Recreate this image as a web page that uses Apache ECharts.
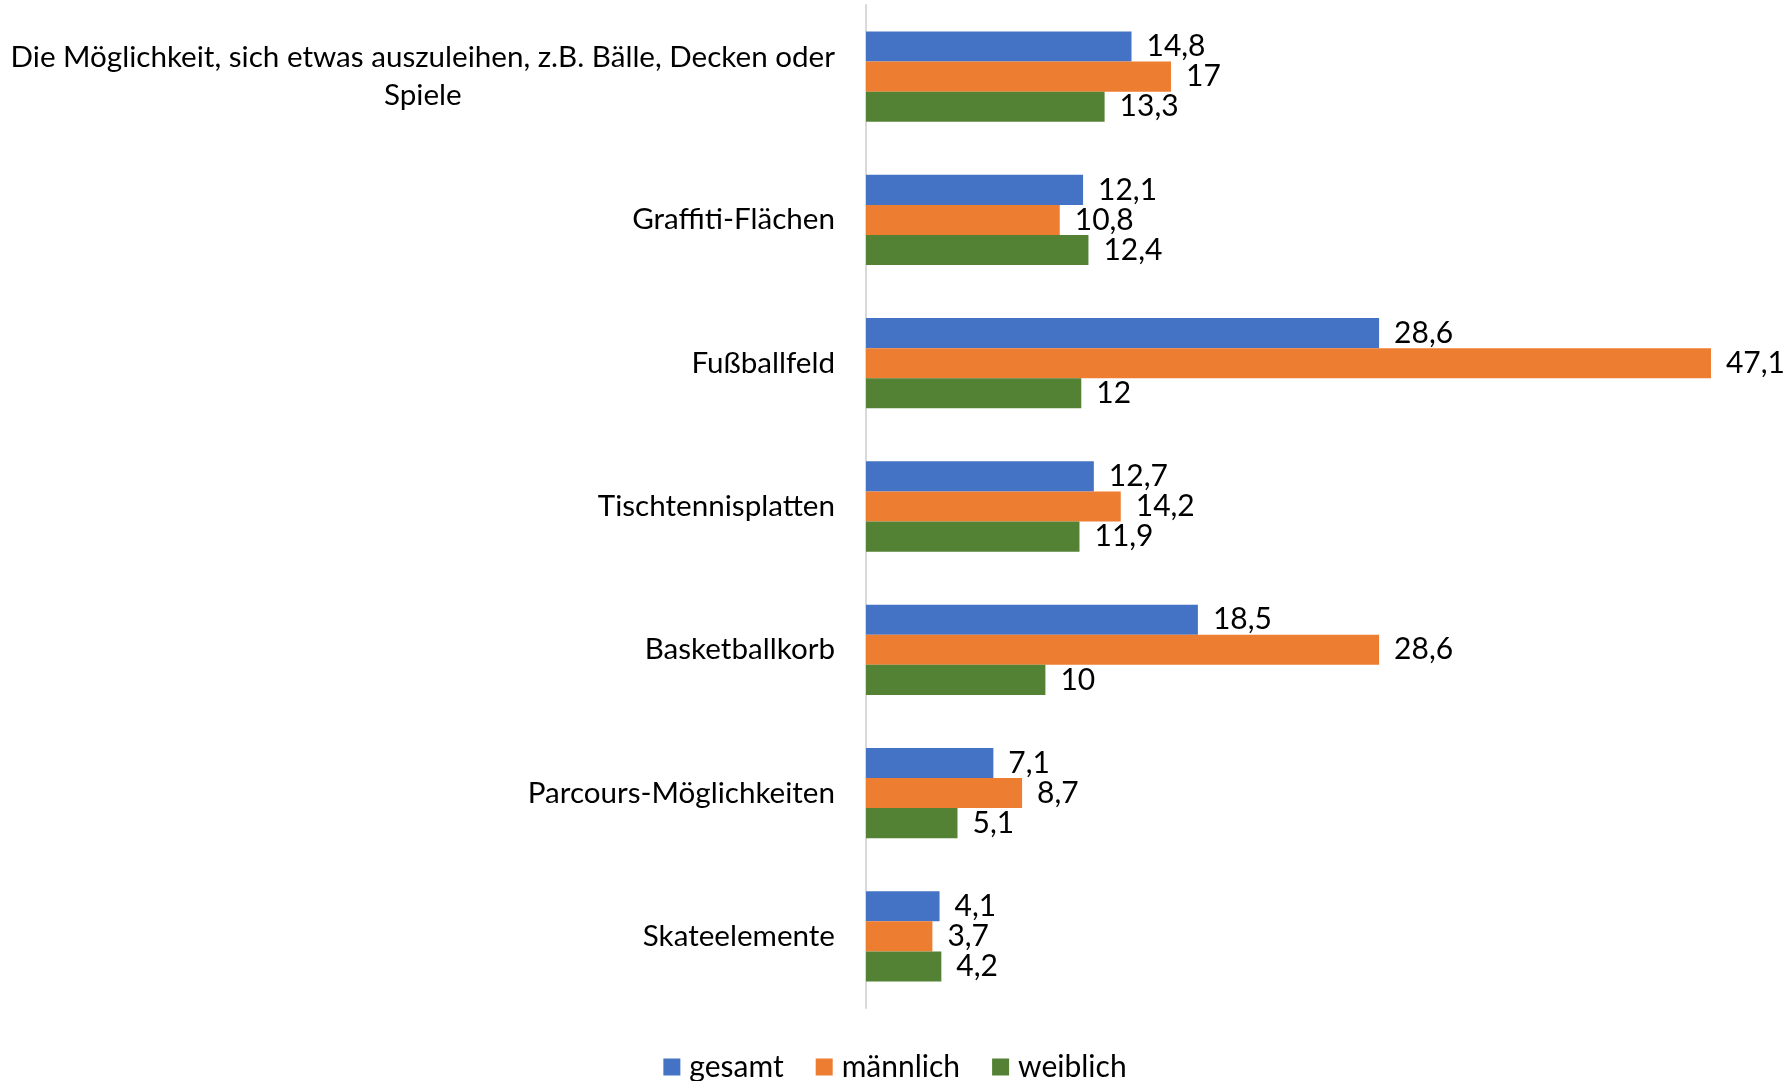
<!DOCTYPE html>
<html>
<head>
<meta charset="utf-8">
<script src="https://cdn.jsdelivr.net/npm/echarts@6/dist/echarts.min.js"></script>
<style>
  html, body { margin: 0; padding: 0; background: #fff; }
  #chart { width: 1790px; height: 1081px; }
</style>
</head>
<body>
<div id="chart"></div>
<script>
// Kategorien (von oben nach unten)
var categories = [
  'Die Möglichkeit, sich etwas auszuleihen, z.B. Bälle, Decken oder\nSpiele',
  'Graffiti-Flächen',
  'Fußballfeld',
  'Tischtennisplatten',
  'Basketballkorb',
  'Parcours-Möglichkeiten',
  'Skateelemente'
];
var gesamt = [14.8, 12.1, 28.6, 12.7, 18.5, 7.1, 4.1];
var maennlich = [17, 10.8, 47.1, 14.2, 28.6, 8.7, 3.7];
var weiblich = [13.3, 12.4, 12, 11.9, 10, 5.1, 4.2];

var font = 'Lato';
var fontSize = 30;

let chart = echarts.init(document.getElementById('chart'));

function valueLabel(p) {
  return String(p.value).replace('.', ',');
}

function barSeries(name, data, color) {
  return {
    name: name,
    type: 'bar',
    data: data,
    barGap: '0%',
    barCategoryGap: '37%',
    itemStyle: { color: color },
    label: {
      show: true,
      position: 'right',
      distance: 15,
      color: '#000',
      fontFamily: font,
      fontSize: fontSize,
      formatter: valueLabel
    }
  };
}

let option = {
  animation: false,
  grid: {
    left: 866,
    right: 27,
    top: 5,
    bottom: 73,
    outerBoundsMode: 'none',
    containLabel: false
  },
  xAxis: {
    type: 'value',
    min: 0,
    max: 50,
    show: false
  },
  yAxis: {
    type: 'category',
    inverse: true,
    data: categories,
    axisTick: { show: false },
    axisLine: {
      lineStyle: { color: '#d9d9d9', width: 2 }
    },
    axisLabel: {
      margin: 31,
      color: '#000',
      fontFamily: font,
      fontSize: fontSize,
      lineHeight: 38,
      formatter: function (v) {
        return v.split('\n').map(function (l) { return '{c|' + l + '}'; }).join('\n');
      },
      rich: {
        c: {
          align: 'center',
          color: '#000',
          fontFamily: font,
          fontSize: 29.6,
          lineHeight: 38
        }
      }
    }
  },
  legend: {
    top: 1047,
    left: 'center',
    itemWidth: 17,
    itemHeight: 17,
    itemGap: 32,
    icon: 'rect',
    textStyle: {
      color: '#000',
      fontFamily: font,
      fontSize: fontSize,
      padding: [0, 0, 0, 4]
    },
    data: ['gesamt', 'männlich', 'weiblich']
  },
  series: [
    barSeries('gesamt', gesamt, '#4472C4'),
    barSeries('männlich', maennlich, '#ED7D31'),
    barSeries('weiblich', weiblich, '#548235')
  ]
};

chart.setOption(option);
</script>
</body>
</html>
